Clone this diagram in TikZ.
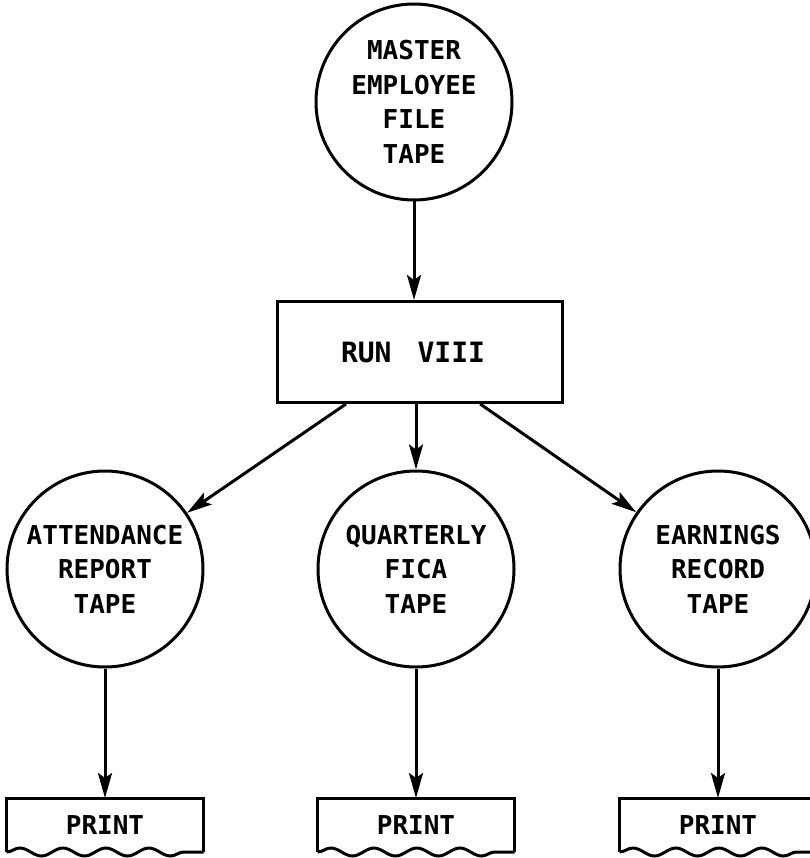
\documentclass[tikz,border=0pt]{standalone}
\usepackage{fontspec}
\setmainfont{DejaVu Sans Mono}
\usetikzlibrary{arrows.meta,calc,decorations.pathmorphing}

\begin{document}
\begin{tikzpicture}[x=1pt,y=-1pt,->,>={Stealth[length=25pt,width=14pt,inset=5pt]},
                    line width=3pt,
                    font=\bfseries\fontsize{26}{34.5}\selectfont]
  \tikzstyle{tapecircle}=[circle,draw,minimum size=196pt,inner sep=0pt,align=center]
  \tikzstyle{runbox}=[rectangle,draw,minimum width=285pt,minimum height=101pt,
                      font=\bfseries\fontsize{28}{34}\selectfont]
  \tikzstyle{printbox}=[rectangle,minimum width=194pt,minimum height=51pt]
  \useasboundingbox (0,0) rectangle (809,858);

  \node[tapecircle] (master) at (414,102) {MASTER\\EMPLOYEE\\FILE\\TAPE};
  \node[runbox]     (run)    at (420,352) {\hspace{-14pt}RUN\hspace{26pt}VIII};

  \node[tapecircle] (att)    at (105,569)                           {ATTENDANCE\\REPORT\\TAPE};
  \node[tapecircle] (fica)   [right of=att,node distance=311pt]     {QUARTERLY\\FICA\\TAPE};
  \node[tapecircle] (earn)   [right of=fica,node distance=302pt]    {EARNINGS\\RECORD\\TAPE};

  \node[printbox]   (pa)     [below of=att,node distance=256pt]     {PRINT};
  \node[printbox]   (pf)     [below of=fica,node distance=256pt]    {PRINT};
  \node[printbox]   (pe)     [below of=earn,node distance=256pt]    {PRINT};

  % print outline with torn bottom edge
  \foreach \p in {pa,pf,pe} {
    \draw[-] (\p.south west) -- (\p.north west) -- (\p.north east) -- (\p.south east);
    \draw[-,decorate,decoration={snake,segment length=43pt,amplitude=4pt}]
      (\p.south west) -- (\p.south east);
  }

  \coordinate (runl) at ($(run.south west)!0.243!(run.south east)$);
  \coordinate (runr) at ($(run.south west)!0.709!(run.south east)$);

  \draw (master) -- (master |- run.north);
  \draw (runl) -- (att);
  \draw (run.south -| fica) -- (fica);
  \draw (runr) -- (earn);
  \draw (att) -- (pa);
  \draw (fica) -- (pf);
  \draw (earn) -- (pe);
\end{tikzpicture}
\end{document}
